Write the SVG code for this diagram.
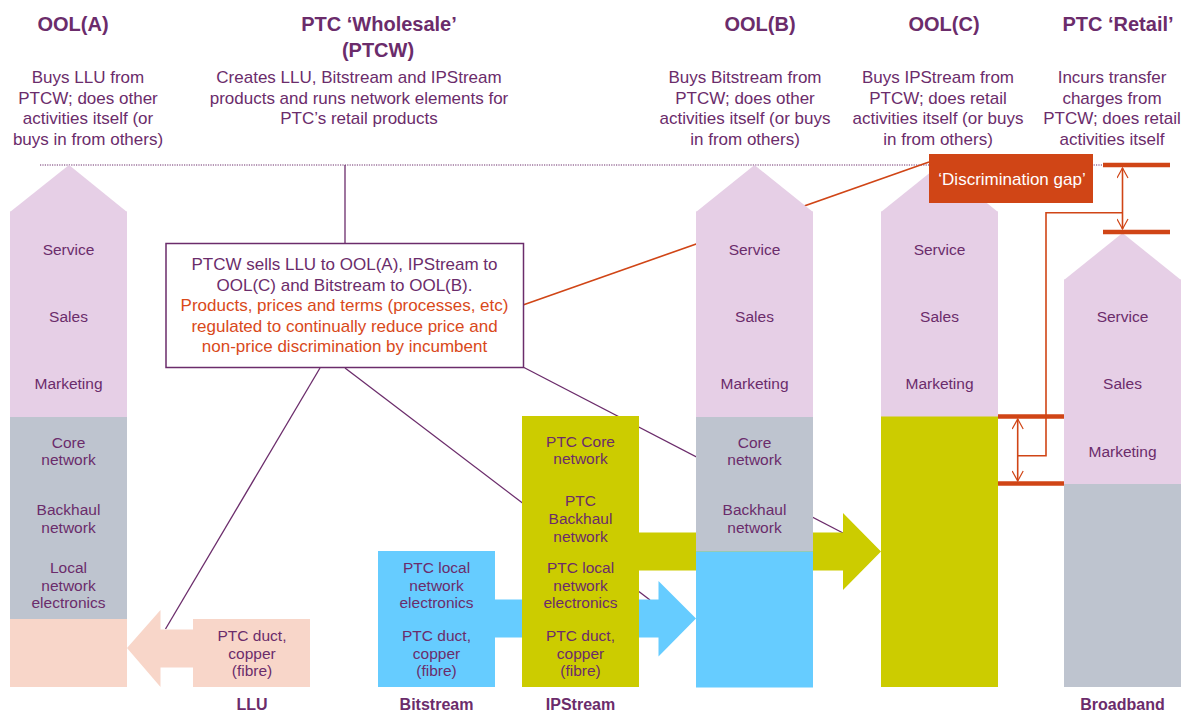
<svg xmlns="http://www.w3.org/2000/svg" width="1192" height="711" viewBox="0 0 1192 711">
<defs>
<style>
text{font-family:"Liberation Sans",Arial,sans-serif;fill:#6B2C6B;text-anchor:middle}
.h{font-size:20px;font-weight:bold}
.d{font-size:17px}
.c{font-size:15.5px}
.b{font-size:16px;font-weight:bold}
.o{fill:#D9491A}
.pink{fill:#E6CFE6}
.grey{fill:#BEC4CF}
.peach{fill:#F8D6C9}
.blue{fill:#66CCFF}
.yel{fill:#CCCC00}
.pl{stroke:#6B2C6B;stroke-width:1.3;fill:none}
.rl{stroke:#D04516;stroke-width:1.6;fill:none}
.bar{stroke:#D04516;stroke-width:4.5}
</style>
<marker id="ah" viewBox="0 0 12 12" refX="11" refY="6" markerWidth="12" markerHeight="12" markerUnits="userSpaceOnUse" orient="auto-start-reverse">
<path d="M1,0.5 L11,6 L1,11.5" fill="none" stroke="#D04516" stroke-width="1.2"/>
</marker>
</defs>
<rect width="1192" height="711" fill="#fff"/>

<g id="headers">
<text class="h" x="73" y="31">OOL(A)</text>
<text class="h" x="379" y="31">PTC ‘Wholesale’</text>
<text class="h" x="378" y="57">(PTCW)</text>
<text class="h" x="760" y="31">OOL(B)</text>
<text class="h" x="944" y="31">OOL(C)</text>
<text class="h" x="1118" y="31">PTC ‘Retail’</text>
<text class="d" x="88" y="83">Buys LLU from</text>
<text class="d" x="88" y="103.5">PTCW;  does other</text>
<text class="d" x="88" y="124">activities itself (or</text>
<text class="d" x="88" y="144.5">buys in from others)</text>
<text class="d" x="359" y="83">Creates LLU,  Bitstream and IPStream</text>
<text class="d" x="359" y="103.5">products and runs network elements for</text>
<text class="d" x="359" y="124">PTC’s retail products</text>
<text class="d" x="745" y="83">Buys Bitstream from</text>
<text class="d" x="745" y="103.5">PTCW;  does other</text>
<text class="d" x="745" y="124">activities itself (or buys</text>
<text class="d" x="745" y="144.5">in from others)</text>
<text class="d" x="938" y="83">Buys IPStream from</text>
<text class="d" x="938" y="103.5">PTCW;  does retail</text>
<text class="d" x="938" y="124">activities itself (or buys</text>
<text class="d" x="938" y="144.5">in from others)</text>
<text class="d" x="1112" y="83">Incurs transfer</text>
<text class="d" x="1112" y="103.5">charges from</text>
<text class="d" x="1112" y="124">PTCW;  does retail</text>
<text class="d" x="1112" y="144.5">activities itself</text>
</g>

<g id="connectors">
<line x1="40" y1="165" x2="1103" y2="165" stroke="#6B2C6B" stroke-width="1" stroke-dasharray="1.2 1.2"/>
<line class="pl" x1="345" y1="165" x2="345" y2="243"/>
<line class="pl" x1="320" y1="368" x2="165.5" y2="629"/>
<line class="pl" x1="345" y1="368" x2="650" y2="600"/>
<line class="pl" x1="523" y1="367" x2="843" y2="533"/>
<line class="rl" x1="929" y1="162" x2="523" y2="305"/>
</g>

<g id="arrows">
<polygon class="peach" points="127,648 160.5,610 160.5,629.5 195,629.5 195,667.5 160.5,667.5 160.5,687"/>
<polygon class="blue" points="494,599.5 658.5,599.5 658.5,581 696,618.5 658.5,656.5 658.5,637.5 494,637.5"/>
<polygon class="yel" points="637,532.5 843,532.5 843,513 881,551.5 843,590 843,570.5 637,570.5"/>
</g>

<g id="ool-a">
<polygon class="pink" points="10,212 69,165 127,212"/>
<rect class="pink" x="10" y="211.5" width="117" height="205.5"/>
<rect class="grey" x="10" y="417" width="117" height="202"/>
<rect class="peach" x="10" y="619" width="117" height="68"/>
<text class="c" x="68.5" y="254.5">Service</text>
<text class="c" x="68.5" y="321.5">Sales</text>
<text class="c" x="68.5" y="389">Marketing</text>
<text class="c" x="68.5" y="447.5">Core</text>
<text class="c" x="68.5" y="465">network</text>
<text class="c" x="68.5" y="515">Backhaul</text>
<text class="c" x="68.5" y="532.5">network</text>
<text class="c" x="68.5" y="573.3">Local</text>
<text class="c" x="68.5" y="590.8">network</text>
<text class="c" x="68.5" y="608.3">electronics</text>
</g>

<g id="llu">
<rect class="peach" x="193" y="619" width="117" height="68"/>
<text class="c" x="252" y="641">PTC duct,</text>
<text class="c" x="252" y="658.5">copper</text>
<text class="c" x="252" y="676">(fibre)</text>
<text class="b" x="252" y="710">LLU</text>
</g>

<g id="bitstream">
<rect class="blue" x="378" y="551" width="117" height="136"/>
<text class="c" x="436.5" y="572.7">PTC local</text>
<text class="c" x="436.5" y="590.5">network</text>
<text class="c" x="436.5" y="608.3">electronics</text>
<text class="c" x="436.5" y="641">PTC duct,</text>
<text class="c" x="436.5" y="658.5">copper</text>
<text class="c" x="436.5" y="676">(fibre)</text>
<text class="b" x="436.5" y="710">Bitstream</text>
</g>

<g id="ipstream">
<rect class="yel" x="522" y="416" width="117" height="271"/>
<text class="c" x="580.5" y="446.7">PTC Core</text>
<text class="c" x="580.5" y="464.3">network</text>
<text class="c" x="580.5" y="506">PTC</text>
<text class="c" x="580.5" y="524">Backhaul</text>
<text class="c" x="580.5" y="541.7">network</text>
<text class="c" x="580.5" y="572.7">PTC local</text>
<text class="c" x="580.5" y="590.5">network</text>
<text class="c" x="580.5" y="608.3">electronics</text>
<text class="c" x="580.5" y="641">PTC duct,</text>
<text class="c" x="580.5" y="658.5">copper</text>
<text class="c" x="580.5" y="676">(fibre)</text>
<text class="b" x="580.5" y="710">IPStream</text>
</g>

<g id="ool-b">
<polygon class="pink" points="696,212 754.5,165 813,212"/>
<rect class="pink" x="696" y="211.5" width="117" height="205.5"/>
<rect class="grey" x="696" y="417" width="117" height="134.5"/>
<rect class="blue" x="696" y="551.5" width="117" height="136"/>
<text class="c" x="754.5" y="254.5">Service</text>
<text class="c" x="754.5" y="321.5">Sales</text>
<text class="c" x="754.5" y="389">Marketing</text>
<text class="c" x="754.5" y="447.5">Core</text>
<text class="c" x="754.5" y="465">network</text>
<text class="c" x="754.5" y="515">Backhaul</text>
<text class="c" x="754.5" y="532.5">network</text>
</g>

<g id="ool-c">
<polygon class="pink" points="881,212 939.5,165 998,212"/>
<rect class="pink" x="881" y="211.5" width="117" height="205.5"/>
<rect class="yel" x="881" y="416.5" width="117" height="270.5"/>
<text class="c" x="939.5" y="254.5">Service</text>
<text class="c" x="939.5" y="321.5">Sales</text>
<text class="c" x="939.5" y="389">Marketing</text>
</g>

<g id="ptc-retail">
<polygon class="pink" points="1064,280 1122.5,233 1181,280"/>
<rect class="pink" x="1064" y="279.5" width="117" height="204.5"/>
<rect class="grey" x="1064" y="484" width="117" height="203"/>
<text class="c" x="1122.5" y="321.5">Service</text>
<text class="c" x="1122.5" y="389">Sales</text>
<text class="c" x="1122.5" y="456.5">Marketing</text>
<text class="b" x="1122.5" y="710">Broadband</text>
</g>

<g id="callout">
<rect x="166" y="243.5" width="357.5" height="124" fill="#fff" stroke="#6B2C6B" stroke-width="1.5"/>
<text class="d" x="344.5" y="270">PTCW sells LLU to OOL(A), IPStream to</text>
<text class="d" x="344.5" y="290.5">OOL(C) and Bitstream to OOL(B).</text>
<text class="d o" x="344.5" y="311">Products, prices and terms (processes, etc)</text>
<text class="d o" x="344.5" y="331.5">regulated to continually reduce price and</text>
<text class="d o" x="344.5" y="352">non-price discrimination by incumbent</text>
</g>

<g id="gap-markers">
<line class="bar" x1="1103" y1="165" x2="1170" y2="165"/>
<line class="bar" x1="1103" y1="232" x2="1170" y2="232"/>
<line class="bar" x1="998" y1="416.5" x2="1064" y2="416.5"/>
<line class="bar" x1="998" y1="483.5" x2="1064" y2="483.5"/>
<line class="rl" x1="1122.5" y1="168" x2="1122.5" y2="229" marker-start="url(#ah)" marker-end="url(#ah)" stroke-width="1.3"/>
<line class="rl" x1="1017.7" y1="419" x2="1017.7" y2="481" marker-start="url(#ah)" marker-end="url(#ah)" stroke-width="1.3"/>
<polyline class="rl" points="1017.7,455.7 1046,455.7 1046,212.7 1122.5,212.7" stroke-width="2"/>
</g>

<g id="discrimination-gap">
<rect x="929" y="154" width="164" height="49" fill="#D04516"/>
<text class="d" x="1012" y="185" style="fill:#fff">‘Discrimination gap’</text>
</g>
</svg>
